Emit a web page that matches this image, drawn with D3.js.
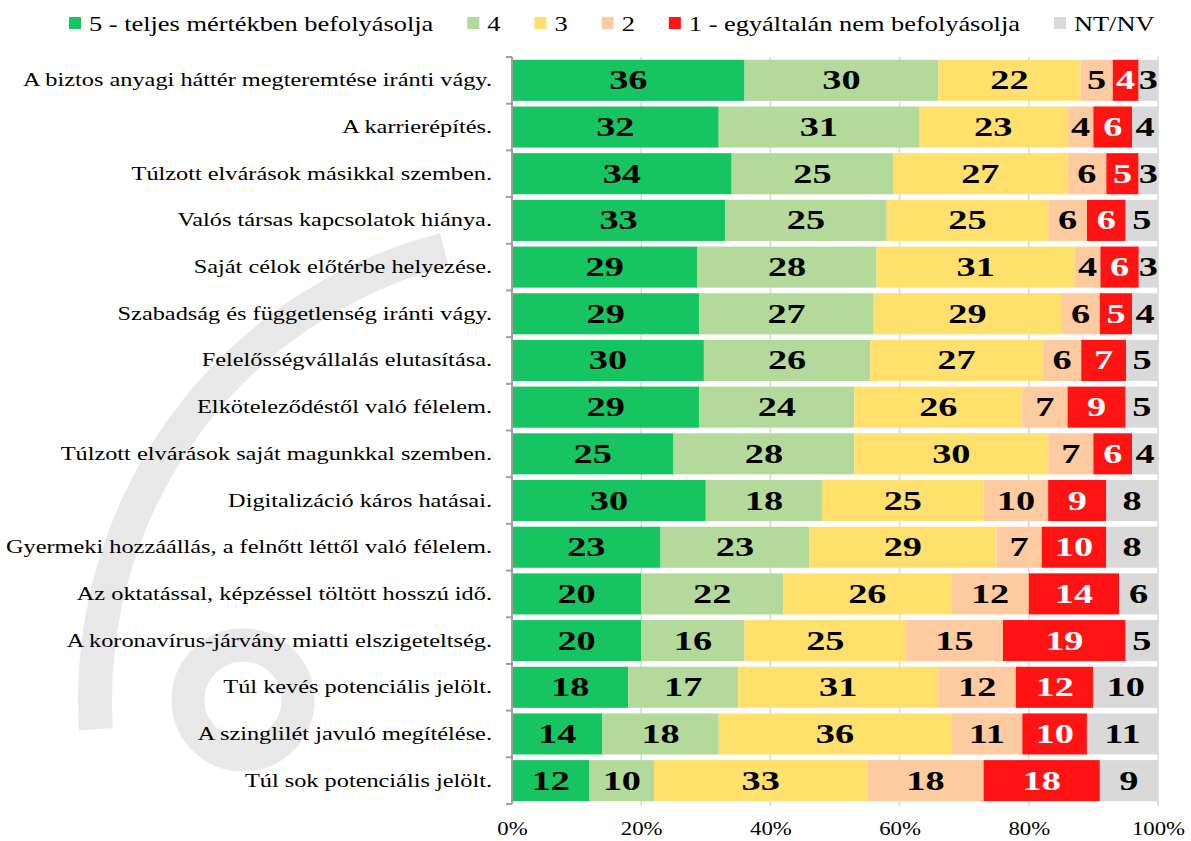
<!DOCTYPE html>
<html>
<head>
<meta charset="utf-8">
<script src="https://cdn.jsdelivr.net/npm/d3@7"></script>
<style>
  body { margin: 0; background: #fff; }
  svg { display: block; }
  svg text { font-family: "Liberation Serif", "Times New Roman", "DejaVu Serif", serif; }
</style>
</head>
<body>
<svg id="chart" width="1191" height="841"></svg>
<script>
// categories, top to bottom
var categories = [
  "A biztos anyagi háttér megteremtése iránti vágy.",
  "A karrierépítés.",
  "Túlzott elvárások másikkal szemben.",
  "Valós társas kapcsolatok hiánya.",
  "Saját célok előtérbe helyezése.",
  "Szabadság és függetlenség iránti vágy.",
  "Felelősségvállalás elutasítása.",
  "Elköteleződéstől való félelem.",
  "Túlzott elvárások saját magunkkal szemben.",
  "Digitalizáció káros hatásai.",
  "Gyermeki hozzáállás, a felnőtt léttől való félelem.",
  "Az oktatással, képzéssel töltött hosszú idő.",
  "A koronavírus-járvány miatti elszigeteltség.",
  "Túl kevés potenciális jelölt.",
  "A szinglilét javuló megítélése.",
  "Túl sok potenciális jelölt."
];

var seriesNames = ["5 - teljes mértékben befolyásolja", "4", "3", "2", "1 - egyáltalán nem befolyásolja", "NT/NV"];
var seriesColors = ["#17c462", "#b4da9b", "#ffe06c", "#fdcb9f", "#ff1313", "#dad9da"];

var s5   = [36, 32, 34, 33, 29, 29, 30, 29, 25, 30, 23, 20, 20, 18, 14, 12];
var s4   = [30, 31, 25, 25, 28, 27, 26, 24, 28, 18, 23, 22, 16, 17, 18, 10];
var s3   = [22, 23, 27, 25, 31, 29, 27, 26, 30, 25, 29, 26, 25, 31, 36, 33];
var s2   = [ 5,  4,  6,  6,  4,  6,  6,  7,  7, 10,  7, 12, 15, 12, 11, 18];
var s1   = [ 4,  6,  5,  6,  6,  5,  7,  9,  6,  9, 10, 14, 19, 12, 10, 18];
var ntnv = [ 3,  4,  3,  5,  3,  4,  5,  5,  4,  8,  8,  6,  5, 10, 11,  9];
var seriesValues = [s5, s4, s3, s2, s1, ntnv];

var xTicks = [0, 20, 40, 60, 80, 100];

var svg = d3.select("#chart");

// faint background watermark
var wm = svg.append("g").attr("fill", "none").attr("stroke", "#e8e8e8").attr("stroke-width", 33);
wm.append("path").attr("d", d3.arc()({innerRadius: 448, outerRadius: 482, startAngle: -Math.PI * 0.52, endAngle: -Math.PI * 0.08}))
  .attr("transform", "translate(560,700)").attr("fill", "#e8e8e8").attr("stroke", "none");
wm.append("circle").attr("cx", 243).attr("cy", 700).attr("r", 55);

var x = d3.scaleLinear().domain([0, 100]).range([512, 1158]);
var y = d3.scaleBand().domain(categories).range([57, 804]).paddingInner(0.12).paddingOuter(0.06);

// gridlines
svg.append("g").selectAll("line").data(xTicks.slice(1)).enter().append("line")
  .attr("x1", function(d) { return x(d); }).attr("x2", function(d) { return x(d); })
  .attr("y1", 57).attr("y2", 806)
  .attr("stroke", "#d9d9d9").attr("stroke-width", 1.5);

// stack data
var rows = categories.map(function(c, i) {
  var total = d3.sum(seriesValues, function(s) { return s[i]; });
  var acc = 0;
  return seriesValues.map(function(s, k) {
    var seg = {cat: c, k: k, v: s[i], x0: acc / total * 100};
    acc += s[i];
    seg.x1 = acc / total * 100;
    return seg;
  });
});
var segs = [].concat.apply([], rows);

svg.append("g").selectAll("rect").data(segs).enter().append("rect")
  .attr("x", function(d) { return x(d.x0); })
  .attr("y", function(d) { return y(d.cat); })
  .attr("width", function(d) { return x(d.x1) - x(d.x0); })
  .attr("height", y.bandwidth())
  .attr("fill", function(d) { return seriesColors[d.k]; });

// value labels
svg.append("g").selectAll("text").data(segs).enter().append("text")
  .attr("transform", function(d) {
    return "translate(" + (x((d.x0 + d.x1) / 2)) + "," + (y(d.cat) + y.bandwidth() / 2 + 9) + ") scale(1.42,1)";
  })
  .attr("text-anchor", "middle")
  .style("font-size", "27px").style("font-weight", "bold")
  .attr("fill", function(d) { return d.k === 4 ? "#fff" : "#000"; })
  .text(function(d) { return d.v; });

// y axis line + boundary ticks
var ya = svg.append("g").attr("stroke", "#a0a0a0").attr("stroke-width", 2);
ya.append("line").attr("x1", 512).attr("x2", 512).attr("y1", 57).attr("y2", 804);
var bounds = categories.map(function(c) { return y(c) - y.step() * y.paddingInner() / 2; });
bounds.push(804 - y.step() * 0.06 + y.step() * y.paddingInner() / 2);
ya.selectAll(".bt").data(bounds).enter().append("line")
  .attr("x1", 506).attr("x2", 512)
  .attr("y1", function(d) { return d; }).attr("y2", function(d) { return d; });

// category labels
svg.append("g").selectAll("text").data(categories).enter().append("text")
  .attr("transform", function(d) { return "translate(492," + (y(d) + y.bandwidth() / 2 + 6) + ") scale(1.28,1)"; })
  .attr("text-anchor", "end")
  .style("font-size", "19px").attr("fill", "#000")
  .text(function(d) { return d; });

// x axis tick labels
var xAxis = svg.append("g").attr("transform", "translate(0,806)")
  .call(d3.axisBottom(x).tickValues(xTicks).tickSize(0).tickFormat(function(d) { return d + "%"; }));
xAxis.select(".domain").remove();
xAxis.selectAll("text")
  .attr("y", 0).attr("dy", null)
  .attr("transform", "translate(0,29) scale(1.2,1)")
  .style("font-size", "19px").attr("fill", "#000");

// legend
var leg = svg.append("g");
var lx = 69;
seriesNames.forEach(function(name, k) {
  var item = leg.append("g").attr("transform", "translate(" + lx + ",0)");
  item.append("rect").attr("x", 0).attr("y", 17).attr("width", 12).attr("height", 12).attr("fill", seriesColors[k]);
  var t = item.append("text").attr("transform", "translate(20,31) scale(1.2,1)")
    .style("font-size", "22px").attr("fill", "#000").text(name);
  var w = t.node().getComputedTextLength() * 1.2;
  lx += 20 + w + 34;
});
</script>
</body>
</html>
